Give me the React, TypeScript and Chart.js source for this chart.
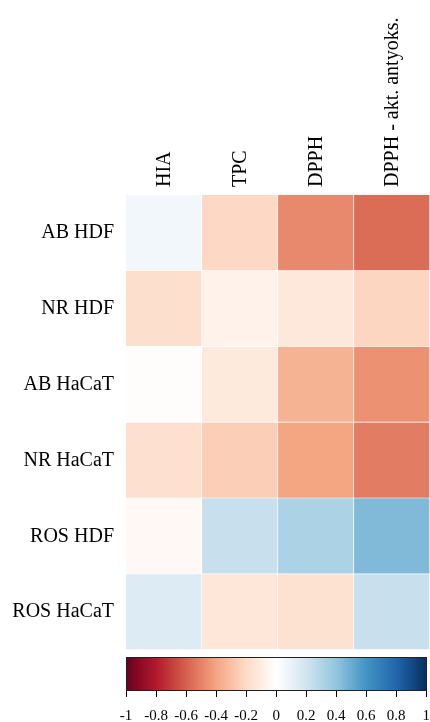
import React, { useEffect, useRef } from "react";
import { Chart, registerables } from "chart.js";

Chart.register(...registerables);

const rowLabels = ["AB HDF", "NR HDF", "AB HaCaT", "NR HaCaT", "ROS HDF", "ROS HaCaT"];
const colLabels = ["HIA", "TPC", "DPPH", "DPPH - akt. antyoks."];

const hiaValues = [0.06, -0.18, -0.01, -0.17, -0.04, 0.15];
const tpcValues = [-0.21, -0.07, -0.12, -0.245, 0.23, -0.14];
const dpphValues = [-0.48, -0.13, -0.35, -0.4, 0.32, -0.16];
const aktValues = [-0.565, -0.22, -0.455, -0.52, 0.445, 0.23];

const scaleTicks = [-1, -0.8, -0.6, -0.4, -0.2, 0, 0.2, 0.4, 0.6, 0.8, 1];
const scaleTickLabels = ["-1", "-0.8", "-0.6", "-0.4", "-0.2", "0", "0.2", "0.4", "0.6", "0.8", "1"];
const paletteColors = [
  "#67001F", "#B2182B", "#D6604D", "#F4A582", "#FDDBC7", "#FFFFFF",
  "#D1E5F0", "#92C5DE", "#4393C3", "#2166AC", "#053061",
];

const FONT = "'Liberation Serif', 'Times New Roman', serif";

function hexToRgb(h: string) {
  const n = parseInt(h.slice(1), 16);
  return [(n >> 16) & 255, (n >> 8) & 255, n & 255];
}

function valueToColor(v: number) {
  const t = Math.max(-1, Math.min(1, v));
  let i = 0;
  while (i < scaleTicks.length - 2 && t > scaleTicks[i + 1]) i++;
  const f = (t - scaleTicks[i]) / (scaleTicks[i + 1] - scaleTicks[i]);
  const a = hexToRgb(paletteColors[i]);
  const b = hexToRgb(paletteColors[i + 1]);
  const c = a.map((x, k) => Math.round(x + (b[k] - x) * f));
  return `rgb(${c[0]},${c[1]},${c[2]})`;
}

export default function App() {
  const heatRef = useRef<HTMLCanvasElement | null>(null);
  const barRef = useRef<HTMLCanvasElement | null>(null);

  useEffect(() => {
    const columns = [hiaValues, tpcValues, dpphValues, aktValues];
    const heat = new Chart(heatRef.current!, {
      type: "bar",
      data: {
        labels: rowLabels,
        datasets: columns.map((vals, c) => ({
          label: colLabels[c],
          data: vals.map(() => [c, c + 1]),
          backgroundColor: vals.map(valueToColor),
          borderColor: "rgba(255,255,255,0.7)",
          borderWidth: { top: 0, left: 0, right: 1, bottom: 1 },
          borderSkipped: false,
          barPercentage: 1,
          categoryPercentage: 1,
          grouped: false,
        })) as any,
      },
      options: {
        indexAxis: "y",
        responsive: true,
        maintainAspectRatio: false,
        animation: false,
        layout: { padding: { top: 0, left: 0, right: 0, bottom: 2 } },
        plugins: { legend: { display: false }, tooltip: { enabled: false } },
        scales: {
          x: {
            type: "linear",
            position: "top",
            min: 0,
            max: 4,
            grid: { display: false, drawTicks: false },
            border: { display: false },
            afterBuildTicks: (s: any) => {
              s.ticks = colLabels.map((_, i) => ({ value: i + 0.5 }));
            },
            afterFit: (s: any) => {
              s.height = 195;
              s.paddingLeft = 0;
              s.paddingRight = 0;
            },
            ticks: {
              autoSkip: false,
              minRotation: 90,
              maxRotation: 90,
              padding: 8,
              labelOffset: 25,
              color: "#000",
              font: { family: FONT, size: 20 },
              callback: (_v: any, i: number) => colLabels[i],
            },
          },
          y: {
            type: "category",
            offset: true,
            grid: { display: false, drawTicks: false },
            border: { display: false },
            afterFit: (s: any) => {
              s.width = 126;
              s.paddingTop = 0;
              s.paddingBottom = 0;
            },
            ticks: {
              padding: 12,
              color: "#000",
              font: { family: FONT, size: 20 },
            },
          },
        },
      } as any,
    });

    const gradientPlugin = {
      id: "colorbar",
      beforeDatasetsDraw(chart: any) {
        const { ctx, chartArea } = chart;
        const xs = chart.scales.x;
        const x0 = xs.getPixelForValue(scaleTicks[0]);
        const x1 = xs.getPixelForValue(scaleTicks[scaleTicks.length - 1]);
        const g = ctx.createLinearGradient(x0, 0, x1, 0);
        scaleTicks.forEach((v, i) => {
          g.addColorStop((xs.getPixelForValue(v) - x0) / (x1 - x0), paletteColors[i]);
        });
        ctx.save();
        ctx.fillStyle = g;
        ctx.fillRect(chartArea.left, chartArea.top, chartArea.right - chartArea.left, chartArea.bottom - chartArea.top);
        ctx.strokeStyle = "#222";
        ctx.lineWidth = 1;
        ctx.strokeRect(
          Math.round(chartArea.left) + 0.5,
          Math.round(chartArea.top) + 0.5,
          Math.round(chartArea.right - chartArea.left),
          Math.round(chartArea.bottom - chartArea.top)
        );
        ctx.restore();
      },
    };

    const bar = new Chart(barRef.current!, {
      type: "scatter",
      data: { datasets: [] },
      options: {
        responsive: true,
        maintainAspectRatio: false,
        animation: false,
        layout: { padding: { top: 5, left: 126, right: 10, bottom: 0 } },
        plugins: { legend: { display: false }, tooltip: { enabled: false } },
        scales: {
          x: {
            type: "linear",
            position: "bottom",
            min: -1,
            max: 1,
            afterBuildTicks: (s: any) => {
              s.ticks = scaleTicks.map((v) => ({ value: v }));
            },
            afterFit: (s: any) => {
              s.height = 52;
            },
            grid: {
              display: true,
              drawOnChartArea: false,
              drawTicks: true,
              tickLength: 7,
              color: "#000",
              lineWidth: 1,
            },
            border: { display: false },
            ticks: {
              autoSkip: false,
              maxRotation: 0,
              minRotation: 0,
              padding: 10,
              color: "#000",
              font: { family: FONT, size: 15 },
              callback: (_v: any, i: number) => scaleTickLabels[i],
            },
          },
          y: { display: false, min: 0, max: 1 },
        },
      } as any,
      plugins: [gradientPlugin],
    });

    return () => {
      heat.destroy();
      bar.destroy();
    };
  }, []);

  return (
    <div
      style={{
        position: "fixed",
        left: 0,
        top: 0,
        width: 430,
        height: 722,
        overflow: "hidden",
        background: "#fff",
      }}
    >
      <div style={{ position: "absolute", left: 0, top: 0, width: 430, height: 652 }}>
        <canvas ref={heatRef} />
      </div>
      <div style={{ position: "absolute", left: 0, top: 652, width: 440, height: 90 }}>
        <canvas ref={barRef} />
      </div>
    </div>
  );
}
